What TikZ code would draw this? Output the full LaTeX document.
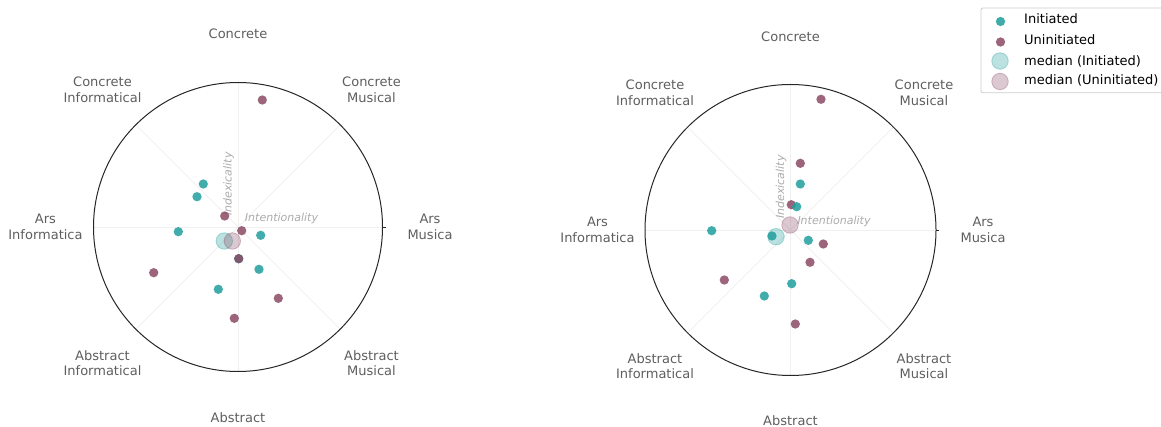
\documentclass[tikz,border=0pt]{standalone}
\usepackage{fontspec}
\usetikzlibrary{calc}
\setmainfont{DejaVu Sans}
\definecolor{tealc}{HTML}{1F9E9C}
\definecolor{maroonc}{HTML}{8B4A64}
\definecolor{labc}{HTML}{5E5E5E}
\definecolor{axc}{HTML}{ABABAB}
\definecolor{gridc}{HTML}{F0F0F0}
\tikzset{
  ini/.style={circle, fill=tealc, fill opacity=0.85, inner sep=0pt, minimum size=9.3pt},
  uni/.style={circle, fill=maroonc, fill opacity=0.85, inner sep=0pt, minimum size=9.3pt},
  medi/.style={circle, fill=tealc, fill opacity=0.3, draw=tealc, draw opacity=0.35, line width=0.8pt, inner sep=0pt, minimum size=16.5pt},
  medu/.style={circle, fill=maroonc, fill opacity=0.3, draw=maroonc, draw opacity=0.35, line width=0.8pt, inner sep=0pt, minimum size=16.5pt},
  lab/.style={text=labc, font=\fontsize{13}{15.5}\selectfont, align=center, inner sep=0pt},
  axlab/.style={text=axc, font=\fontsize{11}{13}\selectfont\itshape, inner sep=0pt},
  leg/.style={text=black, font=\fontsize{13}{15}\selectfont, anchor=west, inner sep=0pt},
  gridl/.style={draw=gridc, line width=0.8pt},
  rim/.style={draw=black!85, line width=1pt}
}
\begin{document}
\begin{tikzpicture}[x=1pt,y=-1pt]
\useasboundingbox (0,0) rectangle (1161,427);
% ---------- left chart ----------
\coordinate (lc) at (238,227);
\foreach \a in {0,45,...,315} \draw[gridl] (lc) -- ++(\a:144.5);
\draw[rim] (lc) circle (144.5);
\draw[black!85, line width=0.8pt] ($(lc)+(144.5,0)$) -- ++(3,0);
\node[axlab, rotate=90] (lidx) at (228.5,184) {Indexicality};
\node[axlab] (lint) at (281.5,218) {Intentionality};
\node[lab] (lt) at (238,34) {Concrete};
\node[lab] (ltl) at (102.5,90) {Concrete\\Informatical};
\node[lab] (ltr) at (371.5,90) {Concrete\\Musical};
\node[lab] (ll) at (45.5,227) {Ars\\Informatica};
\node[lab] (lr) at (430,227) {Ars\\Musica};
\node[lab] (lbl) at (102.5,363) {Abstract\\Informatical};
\node[lab] (lbr) at (371.5,363) {Abstract\\Musical};
\node[lab] (lb) at (238,418) {Abstract};
% points
\node[uni] (lu1) at (262.3,100) {};
\node[ini] (li1) at (203.3,184) {};
\node[ini] (li2) at (197,196.7) {};
\node[uni] (lu2) at (224.7,216) {};
\node[uni] (lu3) at (241.7,230.7) {};
\node[ini] (li3) at (260.7,235.3) {};
\node[ini] (li4) at (178.3,231.7) {};
\node[ini] (li5) at (238.7,258.7) {};
\node[uni] (lu4) at (238.7,258.7) {};
\node[ini] (li6) at (259,269.3) {};
\node[uni] (lu5) at (153.7,272.7) {};
\node[ini] (li7) at (218.3,289.3) {};
\node[uni] (lu6) at (278.3,298.3) {};
\node[uni] (lu7) at (234.3,318.3) {};
\node[medi] (lmi) at (224.3,241) {};
\node[medu] (lmu) at (232.3,241) {};
% ---------- right chart ----------
\coordinate (rc) at (790.5,230);
\foreach \a in {0,45,...,315} \draw[gridl] (rc) -- ++(\a:145.5);
\draw[rim] (rc) circle (145.5);
\draw[black!85, line width=0.8pt] ($(rc)+(145.5,0)$) -- ++(3,0);
\node[axlab, rotate=90] (ridx) at (781,187) {Indexicality};
\node[axlab] (rint) at (834,221.5) {Intentionality};
\node[lab] (rt) at (790.5,37) {Concrete};
\node[lab] (rtl) at (655,93) {Concrete\\Informatical};
\node[lab] (rtr) at (924,93) {Concrete\\Musical};
\node[lab] (rl) at (597.5,230) {Ars\\Informatica};
\node[lab] (rr) at (983,230) {Ars\\Musica};
\node[lab] (rbl) at (655,366) {Abstract\\Informatical};
\node[lab] (rbr) at (924,366) {Abstract\\Musical};
\node[lab] (rb) at (790.5,421) {Abstract};
% points
\node[uni] (ru1) at (821,99.3) {};
\node[uni] (ru2) at (800.3,163.3) {};
\node[ini] (ri1) at (800.3,184) {};
\node[uni] (ru3) at (791.3,204.7) {};
\node[ini] (ri2) at (796.7,206.7) {};
\node[ini] (ri3) at (772,236) {};
\node[ini] (ri4) at (711.7,230.7) {};
\node[ini] (ri5) at (808.3,240.3) {};
\node[uni] (ru4) at (823.3,244) {};
\node[uni] (ru5) at (810,262.3) {};
\node[uni] (ru6) at (724.3,280) {};
\node[ini] (ri6) at (791.7,283.7) {};
\node[ini] (ri7) at (764.3,296) {};
\node[uni] (ru7) at (795.3,324) {};
\node[medu] (rmu) at (790,225) {};
\node[medi] (rmi) at (776,236.7) {};
% ---------- legend ----------
\draw[draw=black!20, fill=white, rounded corners=2pt, line width=0.8pt] (981,8) rectangle (1175,92.7);
\node[ini] (g1) at (1000.5,21.5) {};
\node[leg] (t1) at (1024,18.5) {Initiated};
\node[uni] (g2) at (1000.5,42) {};
\node[leg] (t2) at (1024,39.3) {Uninitiated};
\node[medi] (g3) at (1000,61) {};
\node[leg] (t3) at (1024,61) {median (Initiated)};
\node[medu] (g4) at (1000,81.5) {};
\node[leg] (t4) at (1024,80.7) {median (Uninitiated)};
\end{tikzpicture}
\end{document}
